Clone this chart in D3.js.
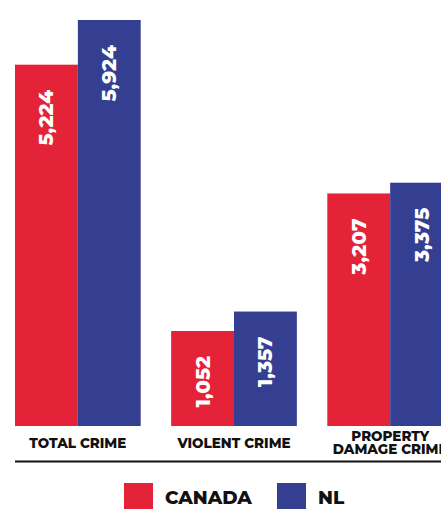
<!DOCTYPE html>
<html>
<head>
<meta charset="utf-8">
<script src="https://cdn.jsdelivr.net/npm/d3@7"></script>
<style>
  html, body { margin: 0; padding: 0; background: #fff; }
  svg { display: block; }
  text { font-family: Montserrat, Inter, "Open Sans", sans-serif; }
</style>
</head>
<body>
<svg id="chart" width="441" height="509"></svg>
<script>
const categories = [["TOTAL CRIME"], ["VIOLENT CRIME"], ["PROPERTY", "DAMAGE CRIME"]];
const categoryKeys = ["total", "violent", "property"];
const seriesNames = ["CANADA", "NL"];
const canadaValues = [5224, 1052, 3207];
const nlValues = [5924, 1357, 3375];
const colors = ["#e42338", "#353f92"];

const svg = d3.select("#chart");
const baseline = 426;

const x0 = d3.scaleBand().domain(categoryKeys).range([15, 453]).paddingInner(0.195).paddingOuter(0);
const x1 = d3.scaleBand().domain(seriesNames).range([0, x0.bandwidth()]).padding(0);
const y = d3.scaleLinear().domain([-436, 5924]).range([baseline, baseline - 406]);

const data = categoryKeys.map((k, i) => ({
  key: k,
  values: [
    { s: seriesNames[0], v: canadaValues[i], c: colors[0] },
    { s: seriesNames[1], v: nlValues[i], c: colors[1] }
  ]
}));

const fmt = d3.format(",");

const groups = svg.selectAll("g.grp").data(data).join("g")
  .attr("class", "grp")
  .attr("transform", d => `translate(${x0(d.key)},0)`);

groups.selectAll("rect").data(d => d.values).join("rect")
  .attr("x", d => x1(d.s))
  .attr("y", d => y(d.v))
  .attr("width", x1.bandwidth())
  .attr("height", d => baseline - y(d.v))
  .attr("fill", d => d.c);

groups.selectAll("text.val").data(d => d.values).join("text")
  .attr("class", "val")
  .attr("transform", d => `translate(${x1(d.s) + x1.bandwidth() / 2 + 7},${y(d.v) + 25}) rotate(-90)`)
  .attr("text-anchor", "end")
  .attr("fill", "#fff")
  .attr("font-size", 20)
  .attr("font-weight", 800)
  .text(d => fmt(d.v));

// category labels
const labels = svg.selectAll("text.cat").data(categoryKeys).join("text")
  .attr("class", "cat")
  .attr("text-anchor", "middle")
  .attr("font-size", 13.5)
  .attr("font-weight", 800)
  .attr("fill", "#111");
labels.each(function(k, i) {
  const lines = categories[i];
  const t = d3.select(this);
  const cx = x0(k) + x0.bandwidth() / 2;
  const startY = lines.length === 1 ? 448 : 441;
  lines.forEach((ln, j) => {
    t.append("tspan").attr("x", cx).attr("y", startY + j * 12.5).text(ln);
  });
});

// axis line
svg.append("line")
  .attr("x1", 15).attr("x2", 441)
  .attr("y1", 461.5).attr("y2", 461.5)
  .attr("stroke", "#111").attr("stroke-width", 2.2);

// legend
const legendX = [124, 277];
const leg = svg.selectAll("g.leg").data(seriesNames).join("g")
  .attr("class", "leg")
  .attr("transform", (d, i) => `translate(${legendX[i]},483)`);
leg.append("rect").attr("width", 29).attr("height", 28).attr("fill", (d, i) => colors[i]);
leg.append("text")
  .attr("x", 41).attr("y", 21)
  .attr("font-size", 18.5).attr("font-weight", 800).attr("fill", "#111")
  .text(d => d);
</script>
</body>
</html>
